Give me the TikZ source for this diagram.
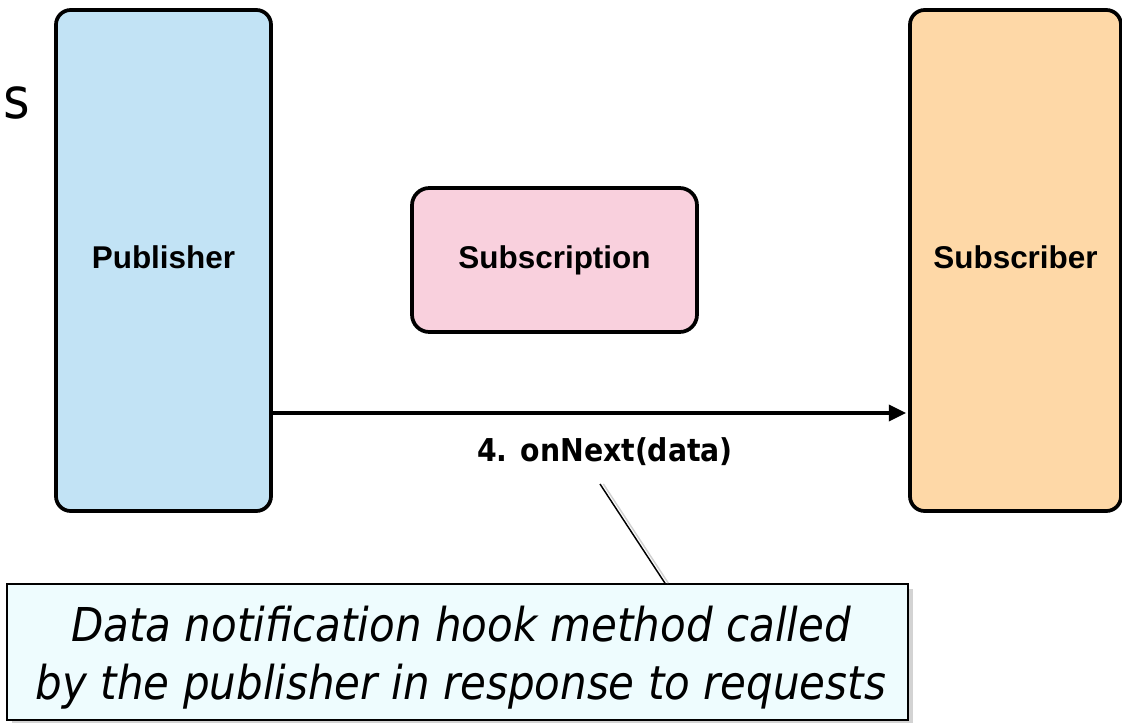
\documentclass[tikz,border=0pt]{standalone}
\usepackage{fontspec}
\setmainfont{Liberation Sans}
\newfontfamily\notefont[FakeStretch=0.9]{DejaVu Sans}
\usetikzlibrary{arrows.meta,shadows}
\definecolor{pubblue}{HTML}{C2E3F5}
\definecolor{subpink}{HTML}{F9D0DD}
\definecolor{suborange}{HTML}{FED8A7}
\definecolor{notecyan}{HTML}{EEFCFE}
\tikzset{
  party/.style={draw=black, line width=2.8pt, rounded corners=11pt,
    font=\fontsize{23.6pt}{28pt}\selectfont\bfseries, inner sep=0pt},
  callout/.style={draw=black, line width=1.2pt, fill=notecyan,
    drop shadow={shadow xshift=3.5pt, shadow yshift=-3.5pt, opacity=0.35}},
  notetext/.style={align=center, inner sep=0pt,
    font=\notefont\itshape\fontsize{35pt}{43.5pt}\selectfont},
  msg/.style={font=\notefont\bfseries\fontsize{23.6pt}{28pt}\selectfont, inner sep=0pt},
  flow/.style={line width=2.6pt, -{Triangle[length=13pt,width=12pt]}, shorten >=1.5pt}
}
\begin{document}
\begin{tikzpicture}[x=0.75pt,y=-0.75pt]
  \useasboundingbox (0,0) rectangle (1122,722);

  % leftover word at the left edge
  \node[anchor=base east, inner sep=0pt, font=\notefont\fontsize{42.6pt}{50pt}\selectfont]
    (word) at (30,118) {as};

  % the three parties
  \node[party, fill=pubblue, minimum width=161.25pt, minimum height=375.75pt, text depth=5pt]
    (pub) at (163.5,260.5) {Publisher};
  \node[party, fill=subpink, minimum width=213.75pt, minimum height=108pt, rounded corners=13pt]
    (subn) at (554.5,260) {Subscription};
  \node[party, fill=suborange, minimum width=158.25pt, minimum height=375.75pt, text depth=5pt]
    (subr) at (1015.5,260.5) {Subscriber};

  % onNext call
  \coordinate (ay) at (0,413);
  \draw[flow] (pub.east |- ay) -- (subr.west |- ay);
  \node[msg] (lbl) at (605,452) {4. onNext(data)};

  % explanatory callout
  \node[callout, minimum width=675.75pt, minimum height=102pt]
    (note) at (457.5,652) {};
  \node[notetext] (notetxt) at (461,658)
    {Data notification hook method called\\by the publisher in response to requests};
  \coordinate (ptr) at (600,484);
  \coordinate (ptrbase) at (665,585);
  \draw[line width=1.1pt, black!30, opacity=0.6] ([xshift=2.5pt]ptr) -- ([xshift=2.5pt]note.north -| ptrbase);
  \draw[line width=1.1pt] (ptr) -- (note.north -| ptrbase);
\end{tikzpicture}
\end{document}
